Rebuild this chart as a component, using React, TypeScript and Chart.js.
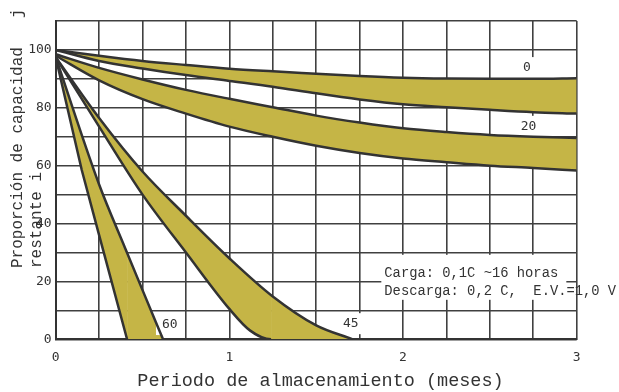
import React, { useEffect, useRef } from "react";
import { Chart, registerables } from "chart.js";

Chart.register(...registerables);

// ---- data ----
const months = [0, 0.25, 0.5, 0.75, 1, 1.25, 1.5, 1.75, 2, 2.25, 2.5, 2.75, 3];
const band0Upper = [100, 98, 96.2, 94.8, 93.5, 92.6, 91.8, 91.0, 90.4, 90.1, 90.0, 90.0, 90.2];
const band0Lower = [100, 96.2, 93.6, 91.3, 89.3, 87.3, 85.0, 82.9, 81.2, 80.2, 79.3, 78.5, 78.0];
const band20Upper = [98.5, 93.8, 89.8, 86.2, 83.1, 80.2, 77.3, 74.9, 72.9, 71.6, 70.6, 70.0, 69.6];
const band20Lower = [98, 89.5, 83, 78, 73.5, 70, 66.9, 64.4, 62.5, 61.2, 60.0, 59.2, 58.3];

const band45UpperX = [0, 0.25, 0.5, 0.75, 1.0, 1.25, 1.5, 1.71];
const band45Upper = [97.5, 76.5, 58, 42.7, 28, 14.8, 4.8, 0];
const band45LowerX = [0, 0.25, 0.5, 0.75, 1.0, 1.12, 1.24, 1.71];
const band45Lower = [97.5, 73.5, 50, 30, 10.5, 3, 0, 0];

const band60UpperX = [0, 0.25, 0.4, 0.5, 0.618];
const band60Upper = [97.5, 53.5, 31.5, 17, 0];
const band60LowerX = [0, 0.15, 0.25, 0.411, 0.618];
const band60Lower = [97.5, 58.5, 36, 0, 0];

const curveLabels = ["0", "20", "60", "45"];
const curveLabelX = [2.714, 2.723, 0.657, 1.699];
const curveLabelY = [93.9, 73.6, 5.1, 5.4];

const noteLines = ["Carga: 0,1C ~16 horas", "Descarga: 0,2 C,  E.V.=1,0 V"];
const noteAnchor = [1.875, 29.2];

const xTitle = "Periodo de almacenamiento (meses)";
const yTitleLines = ["Proporción de capacidad   j", "restante i"];

// ---- styles ----
const INK = "#333333";
const FILL = "rgb(197,181,70)";
const GRID = "#404040";

function pts(xs: number[], ys: number[]) {
  return xs.map((x, i) => ({ x, y: ys[i] }));
}

const hideFlat = {
  borderColor: (c: any) =>
    c.p0.parsed.y === 0 && c.p1.parsed.y === 0 ? "rgba(0,0,0,0)" : undefined,
};

export default function App() {
  const ref = useRef<HTMLCanvasElement | null>(null);

  useEffect(() => {
    if (!ref.current) return;
    const base = {
      borderColor: INK,
      borderWidth: 2.5,
      pointRadius: 0,
      backgroundColor: FILL,
      cubicInterpolationMode: "monotone" as const,
      clip: 0,
    };
    const textPlugin = {
      id: "texts",
      beforeDatasetsDraw(chart: any) {
        const { ctx, scales } = chart;
        const x = scales.x;
        const y = scales.y;
        ctx.save();
        ctx.font = "13px 'DejaVu Sans Mono'";
        ctx.textAlign = "center";
        ctx.textBaseline = "middle";
        curveLabels.forEach((t, i) => {
          const px = x.getPixelForValue(curveLabelX[i]);
          const py = y.getPixelForValue(curveLabelY[i]);
          const w = ctx.measureText(t).width;
          ctx.fillStyle = "#ffffff";
          ctx.fillRect(px - w / 2 - 6, py - 10.5, w + 12, 21);
          ctx.fillStyle = INK;
          ctx.fillText(t, px, py);
        });
        const nx = x.getPixelForValue(noteAnchor[0]);
        const ny = y.getPixelForValue(noteAnchor[1]);
        ctx.fillStyle = "#ffffff";
        ctx.fillRect(nx, ny, 185, 45);
        ctx.fillStyle = INK;
        ctx.font = "13.8px 'Liberation Mono'";
        ctx.textAlign = "left";
        noteLines.forEach((t, i) => {
          ctx.fillText(t, nx + 3, ny + 18.3 + i * 18.4);
        });
        ctx.restore();
      },
      afterDraw(chart: any) {
        const { ctx } = chart;
        ctx.save();
        ctx.fillStyle = INK;
        ctx.font = "18.5px 'Liberation Mono'";
        ctx.textAlign = "center";
        ctx.textBaseline = "middle";
        ctx.fillText(xTitle, 320.5, 381);
        ctx.font = "16px 'Liberation Mono'";
        ctx.textAlign = "left";
        const xs = [18, 37];
        yTitleLines.forEach((t, i) => {
          ctx.save();
          ctx.translate(xs[i], 268);
          ctx.rotate(-Math.PI / 2);
          ctx.fillText(t, 0, 0);
          ctx.restore();
        });
        ctx.restore();
      },
    };

    const chart = new Chart(ref.current, {
      type: "line",
      data: {
        datasets: [
          { ...base, data: pts(months, band0Upper), fill: "+1" },
          { ...base, data: pts(months, band0Lower), fill: false },
          { ...base, data: pts(months, band20Upper), fill: "+1" },
          { ...base, data: pts(months, band20Lower), fill: false },
          { ...base, data: pts(band45UpperX, band45Upper), fill: "+1" },
          { ...base, data: pts(band45LowerX, band45Lower), fill: false, segment: hideFlat },
          { ...base, data: pts(band60UpperX, band60Upper), fill: "+1" },
          {
            ...base,
            data: pts(band60LowerX, band60Lower),
            fill: false,
            tension: 0,
            cubicInterpolationMode: "default" as const,
            segment: hideFlat,
          },
        ],
      },
      options: {
        animation: false,
        responsive: false,
        devicePixelRatio: 1,
        layout: { padding: { top: 21, right: 42.3, left: 0, bottom: 0 } },
        plugins: {
          legend: { display: false },
          tooltip: { enabled: false },
          filler: { drawTime: "beforeDatasetsDraw" },
        },
        scales: {
          x: {
            type: "linear",
            min: 0,
            max: 3,
            afterFit: (s: any) => {
              s.height = 52.7;
            },
            ticks: {
              stepSize: 0.25,
              autoSkip: false,
              maxTicksLimit: 100,
              maxRotation: 0,
              padding: 11,
              color: INK,
              font: { family: "'DejaVu Sans Mono'", size: 13 },
              callback: (v: any) => (Number.isInteger(v) ? String(v) : ""),
            },
            grid: { color: GRID, lineWidth: 1.6, drawTicks: false },
            border: { color: INK, width: 2 },
          },
          y: {
            type: "linear",
            min: 0,
            max: 110,
            afterFit: (s: any) => {
              s.width = 55.7;
            },
            ticks: {
              stepSize: 10,
              autoSkip: false,
              maxTicksLimit: 100,
              padding: 4,
              color: INK,
              font: { family: "'DejaVu Sans Mono'", size: 13 },
              callback: (v: any) => (v % 20 === 0 && v <= 100 ? String(v) : ""),
            },
            grid: { color: GRID, lineWidth: 1.6, drawTicks: false },
            border: { color: INK, width: 2 },
          },
        },
      },
      plugins: [textPlugin],
    } as any);
    return () => chart.destroy();
  }, []);

  return (
    <div style={{ position: "absolute", left: 0, top: 0, width: 619, height: 392, background: "#fff" }}>
      <canvas ref={ref} width={619} height={392} style={{ display: "block" }} />
    </div>
  );
}
